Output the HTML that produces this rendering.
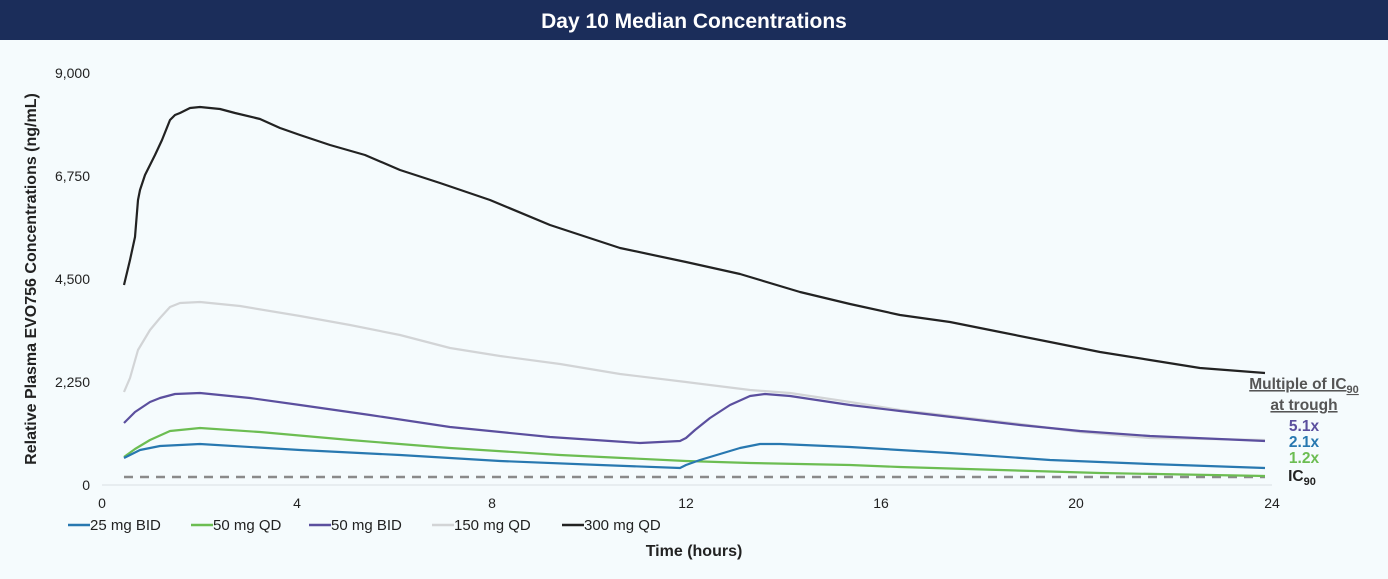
<!DOCTYPE html>
<html><head><meta charset="utf-8"><style>
body{margin:0;background:#f5fbfd;font-family:"Liberation Sans",sans-serif;}
</style></head><body>
<svg width="1388" height="574" viewBox="0 0 1388 574" xmlns="http://www.w3.org/2000/svg" font-family="Liberation Sans, sans-serif">
<rect width="1388" height="574" fill="#f5fbfd"/>
<rect width="1388" height="40" fill="#1b2d5a"/>
<text x="694" y="28" text-anchor="middle" fill="#fff" font-size="21" font-weight="bold">Day 10 Median Concentrations</text>
<line x1="102" y1="485" x2="1272" y2="485" stroke="#d9dfe3" stroke-width="1"/>
<g font-size="14" fill="#222" text-anchor="end">
<text x="90" y="78">9,000</text><text x="90" y="181">6,750</text><text x="90" y="284">4,500</text><text x="90" y="387">2,250</text><text x="90" y="490">0</text>
</g>
<g font-size="14" fill="#222" text-anchor="middle">
<text x="102" y="508">0</text><text x="297" y="508">4</text><text x="492" y="508">8</text><text x="686" y="508">12</text><text x="881" y="508">16</text><text x="1076" y="508">20</text><text x="1272" y="508">24</text>
</g>
<text transform="translate(36,279) rotate(-90)" text-anchor="middle" font-size="16" font-weight="bold" fill="#222">Relative Plasma EVO756 Concentrations (ng/mL)</text>
<text x="694" y="556" text-anchor="middle" font-size="16" font-weight="bold" fill="#222">Time (hours)</text>
<line x1="124" y1="477" x2="1265" y2="477" stroke="#8a8a8a" stroke-width="2.5" stroke-dasharray="9,7"/>
<g fill="none" stroke-width="2.2" stroke-linejoin="round">
<polyline stroke="#222" points="124,285 130,260 135,237 138,200 140,190 145,175 155,155 162,140 170,120 175,115 180,113 190,108 200,107 220,109 235,113 260,119 280,128 300,135 330,145 365,155 400,170 440,183 490,200 550,225 620,248 686,262 740,274 800,292 850,304 900,315 950,322 1000,332 1050,342 1100,352 1150,360 1200,368 1265,373"/>
<polyline stroke="#d2d4d6" points="124,392 130,378 138,350 150,330 160,318 170,307 180,303 200,302 240,306 300,316 350,325 400,335 450,348 500,356 560,364 620,374 686,382 750,390 790,393 850,402 900,410 960,417 1020,424 1080,432 1150,438 1265,440"/>
<polyline stroke="#5b4f9e" points="124,423 135,412 150,402 160,398 175,394 200,393 250,398 300,405 370,415 450,427 550,437 640,443 680,441 686,438 695,430 710,418 730,405 750,396 765,394 790,396 850,405 900,411 960,418 1020,425 1080,431 1150,436 1265,441"/>
<polyline stroke="#6cbd52" points="124,457 135,449 150,440 170,431 200,428 260,432 350,440 450,448 560,455 686,461 750,463 850,465 900,467 1000,470 1100,473 1265,476"/>
<polyline stroke="#2878b0" points="124,458 140,450 160,446 200,444 300,450 400,455 500,461 600,465 680,468 686,465 700,460 720,454 740,448 760,444 780,444 850,447 950,453 1050,460 1150,464 1265,468"/>
</g>
<g font-size="15.5" font-weight="bold" text-anchor="middle">
<text x="1304" y="389" fill="#555" text-decoration="underline">Multiple of IC<tspan font-size="11" dy="4">90</tspan></text>
<text x="1304" y="410" fill="#555" text-decoration="underline">at trough</text>
<text x="1304" y="431" fill="#5b4f9e">5.1x</text>
<text x="1304" y="447" fill="#2878b0">2.1x</text>
<text x="1304" y="463" fill="#6cbd52">1.2x</text>
<text x="1302" y="481" fill="#222">IC<tspan font-size="11" dy="4">90</tspan></text>
</g>
<g font-size="15" fill="#222">
<line x1="68" y1="525" x2="90" y2="525" stroke="#2878b0" stroke-width="2.5"/><text x="90" y="530">25 mg BID</text>
<line x1="191" y1="525" x2="213" y2="525" stroke="#6cbd52" stroke-width="2.5"/><text x="213" y="530">50 mg QD</text>
<line x1="309" y1="525" x2="331" y2="525" stroke="#5b4f9e" stroke-width="2.5"/><text x="331" y="530">50 mg BID</text>
<line x1="432" y1="525" x2="454" y2="525" stroke="#d2d4d6" stroke-width="2.5"/><text x="454" y="530">150 mg QD</text>
<line x1="562" y1="525" x2="584" y2="525" stroke="#222" stroke-width="2.5"/><text x="584" y="530">300 mg QD</text>
</g>
</svg>
</body></html>
